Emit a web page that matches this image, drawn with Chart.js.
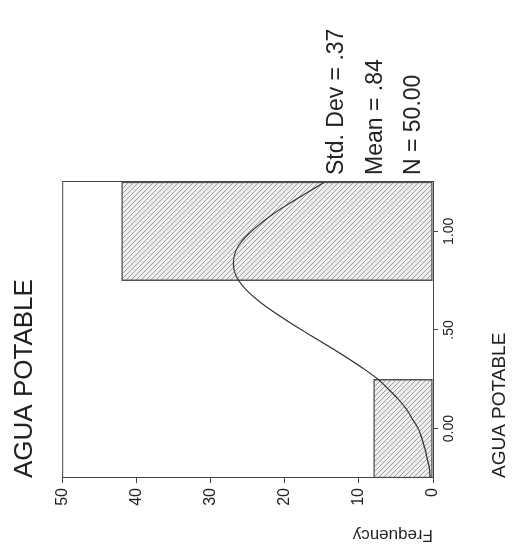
<!DOCTYPE html>
<html>
<head>
<meta charset="utf-8">
<script src="https://cdn.jsdelivr.net/npm/chart.js@4"></script>
<style>
  html, body { margin: 0; padding: 0; background: #fff; overflow: hidden; }
  body { width: 518px; height: 551px; position: relative; }
  /* the scan is turned a quarter turn, so the chart is drawn upright and rotated */
  #chart {
    position: absolute; left: 0; top: 0;
    transform-origin: 0 0;
    transform: translate(0, 551px) rotate(-90deg);
  }
</style>
</head>
<body>
<canvas id="chart" width="551" height="518"></canvas>
<script>
// histogram bins (interval width .5)
const binCenters = [0, 1];
const binCounts = [8, 42];

// fitted normal curve
const curveX = [-0.25, -0.2, -0.15, -0.1, -0.05, 0, 0.05, 0.1, 0.15, 0.2, 0.25, 0.3, 0.35, 0.4, 0.45, 0.5,
                0.55, 0.6, 0.65, 0.7, 0.75, 0.8, 0.85, 0.9, 0.95, 1.0, 1.05, 1.1, 1.15, 1.2, 1.25];
const curveY = [0.4, 0.5, 0.8, 1.1, 1.5, 2.0, 2.8, 3.6, 4.7, 6.0, 7.4, 9.2, 11.2, 13.3, 15.5, 17.7,
                19.8, 21.8, 23.6, 25.1, 26.2, 26.8, 26.9, 26.6, 25.8, 24.5, 22.9, 21.1, 19.0, 16.8, 14.6];

const xTickValues = [0, 0.5, 1];
const xTickLabels = ['0.00', '.50', '1.00'];
const yTickValues = [0, 10, 20, 30, 40, 50];

const statLines = ['Std. Dev = .37', 'Mean = .84', 'N = 50.00'];

const FONT = '"Liberation Sans", Arial, sans-serif';
const INK = '#222';

// hatched fill like the SPSS bars
function hatchPattern() {
    const c = document.createElement('canvas');
    c.width = 5;
    c.height = 5;
    const g = c.getContext('2d');
    g.fillStyle = '#eeeeee';
    g.fillRect(0, 0, 5, 5);
    g.strokeStyle = '#a0a0a0';
    g.lineWidth = 1;
    g.beginPath();
    g.moveTo(-1, -1);
    g.lineTo(6, 6);
    g.stroke();
    return g.createPattern(c, 'repeat');
}

const framePlugin = {
    id: 'frame',
    afterDatasetsDraw(chart) {
        const { ctx, chartArea: a } = chart;
        ctx.save();
        ctx.strokeStyle = '#444';
        ctx.lineWidth = 1;
        ctx.strokeRect(a.left + 0.5, a.top + 0.5, a.right - a.left, a.bottom - a.top);
        ctx.restore();
    }
};

const statsPlugin = {
    id: 'stats',
    afterDraw(chart) {
        const { ctx, chartArea: a } = chart;
        ctx.save();
        ctx.fillStyle = INK;
        ctx.font = '23px ' + FONT;
        ctx.textBaseline = 'middle';
        ctx.textAlign = 'left';
        const n = statLines.length;
        statLines.forEach((t, i) => {
            ctx.fillText(t, a.right + 7, a.bottom - 19 - (n - 1 - i) * 38.5);
        });
        ctx.restore();
    }
};

new Chart(document.getElementById('chart'), {
    type: 'bar',
    data: {
        datasets: [
            {
                type: 'line',
                data: curveX.map((x, i) => ({ x: x, y: curveY[i] })),
                borderColor: '#333',
                borderWidth: 1.2,
                pointRadius: 0,
                tension: 0.3,
                order: 0
            },
            {
                data: binCenters.map((x, i) => ({ x: x, y: binCounts[i] })),
                backgroundColor: hatchPattern(),
                borderColor: '#555',
                borderWidth: 1.5,
                borderSkipped: false,
                // ruler spacing follows the .5 ticks, so a full slot is one bin
                categoryPercentage: 1,
                barPercentage: 1,
                order: 1
            }
        ]
    },
    options: {
        responsive: false,
        animation: false,
        devicePixelRatio: 1,
        layout: { padding: { right: 182 } },
        plugins: {
            legend: { display: false },
            tooltip: { enabled: false },
            title: {
                display: true,
                text: 'AGUA POTABLE',
                align: 'start',
                fullSize: false,
                color: INK,
                font: { family: FONT, size: 26, weight: 'normal' },
                padding: { top: 9, bottom: 22 }
            }
        },
        scales: {
            x: {
                type: 'linear',
                min: -0.25,
                max: 1.25,
                offset: false,
                afterBuildTicks: s => { s.ticks = xTickValues.map(v => ({ value: v })); },
                afterFit: s => { s.height = 85; },
                ticks: {
                    color: INK,
                    font: { family: FONT, size: 14 },
                    padding: 3,
                    maxRotation: 0,
                    callback: v => xTickLabels[xTickValues.indexOf(v)]
                },
                grid: { display: true, drawOnChartArea: false, drawTicks: true, tickLength: 5, color: '#444', offset: false },
                border: { display: true, color: '#444' },
                title: {
                    display: true,
                    text: 'AGUA POTABLE',
                    align: 'start',
                    color: INK,
                    font: { family: FONT, size: 19 },
                    padding: { top: 0, bottom: 7 }
                }
            },
            y: {
                min: 0,
                max: 50,
                afterBuildTicks: s => { s.ticks = yTickValues.map(v => ({ value: v })); },
                afterFit: s => { s.width = 73; },
                ticks: {
                    color: INK,
                    font: { family: FONT, size: 16 },
                    padding: 5
                },
                grid: { display: true, drawOnChartArea: false, drawTicks: true, tickLength: 5, color: '#444' },
                border: { display: true, color: '#444' },
                title: {
                    display: true,
                    text: 'Frequency',
                    align: 'start',
                    color: INK,
                    font: { family: FONT, size: 17 },
                    padding: { top: 6, bottom: 0 }
                }
            }
        }
    },
    plugins: [framePlugin, statsPlugin]
});
</script>
</body>
</html>
